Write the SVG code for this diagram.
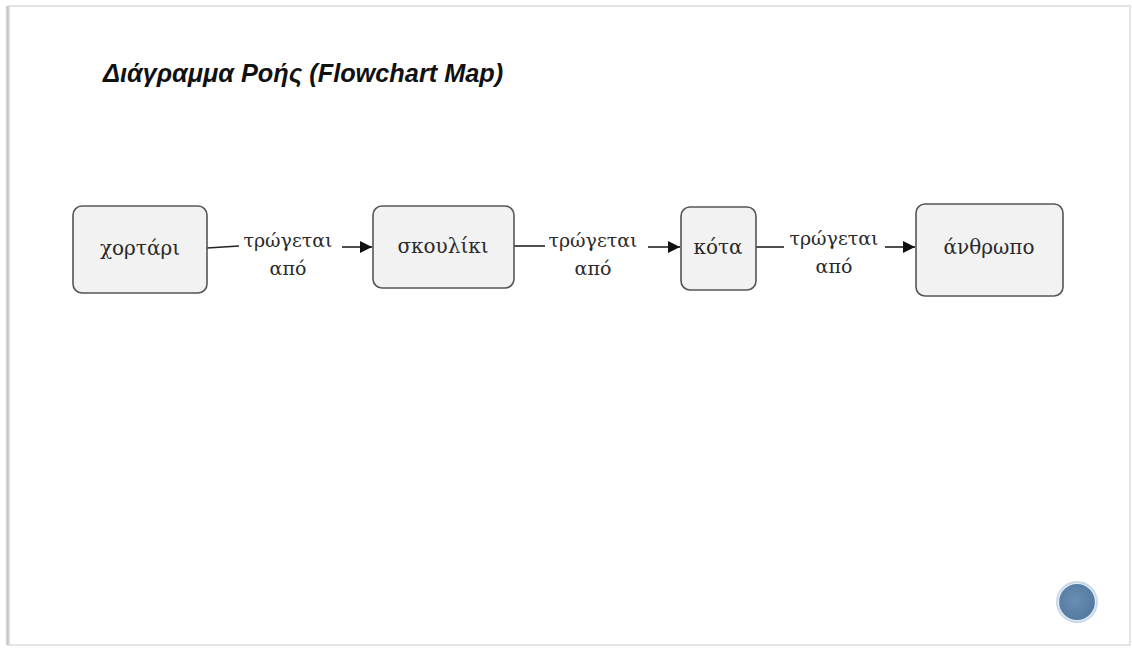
<svg xmlns="http://www.w3.org/2000/svg" width="1132" height="648" viewBox="0 0 1132 648">
  <defs>
    <linearGradient id="leftShade" x1="0" y1="0" x2="1" y2="0">
      <stop offset="0" stop-color="#ffffff"/>
      <stop offset="0.5" stop-color="#c4c4c4"/>
      <stop offset="1" stop-color="#e8e8e8"/>
    </linearGradient>
    <marker id="arrow" viewBox="0 0 10 10" refX="10" refY="5" markerWidth="13" markerHeight="12" markerUnits="userSpaceOnUse" orient="auto">
      <path d="M0,0 L10,5 L0,10 z" fill="#111"/>
    </marker>
    <radialGradient id="dot" cx="0.45" cy="0.45" r="0.6">
      <stop offset="0" stop-color="#6a8fb2"/>
      <stop offset="1" stop-color="#51789f"/>
    </radialGradient>
  </defs>
  <style>
    .node rect { fill: #f2f2f2; stroke: #555; stroke-width: 1.6; }
    .node text { font-family: "DejaVu Serif", "Liberation Serif", serif; font-size: 20px; fill: #2a2a2a; text-anchor: middle; }
    .label { font-family: "DejaVu Serif", "Liberation Serif", serif; font-size: 19px; fill: #2a2a2a; text-anchor: middle; }
    .edge { stroke: #222; stroke-width: 1.6; fill: none; }
    .title { font-family: "Liberation Sans", Arial, sans-serif; font-size: 25.3px; font-weight: bold; font-style: italic; fill: #111; }
  </style>

  <!-- slide background and frame -->
  <rect x="0" y="0" width="1132" height="648" fill="#ffffff"/>
  <rect x="8" y="6" width="1122" height="639" fill="#ffffff" stroke="#dcdcdc" stroke-width="1.5"/>
  <rect x="5" y="6" width="5" height="639" fill="url(#leftShade)"/>

  <text class="title" x="103" y="82">Διάγραμμα Ροής (Flowchart Map)</text>

  <!-- connectors -->
  <g id="connectors">
    <line class="edge" x1="207" y1="248" x2="239" y2="246"/>
    <line class="edge" x1="342" y1="247" x2="372" y2="247" marker-end="url(#arrow)"/>
    <text class="label" x="288" y="247">τρώγεται</text>
    <text class="label" x="288" y="275">από</text>

    <line class="edge" x1="514" y1="246" x2="545" y2="246"/>
    <line class="edge" x1="648" y1="247" x2="680" y2="247" marker-end="url(#arrow)"/>
    <text class="label" x="593" y="247">τρώγεται</text>
    <text class="label" x="593" y="275">από</text>

    <line class="edge" x1="756" y1="247" x2="784" y2="247"/>
    <line class="edge" x1="885" y1="247" x2="915" y2="247" marker-end="url(#arrow)"/>
    <text class="label" x="834" y="245">τρώγεται</text>
    <text class="label" x="834" y="273">από</text>
  </g>

  <g id="node-grass" class="node">
    <rect x="73" y="206" width="134" height="87" rx="9"/>
    <text x="140" y="255">χορτάρι</text>
  </g>
  <g id="node-worm" class="node">
    <rect x="373" y="206" width="141" height="82" rx="9"/>
    <text x="443" y="253">σκουλίκι</text>
  </g>
  <g id="node-hen" class="node">
    <rect x="681" y="207" width="75" height="83" rx="9"/>
    <text x="718" y="254">κότα</text>
  </g>
  <g id="node-human" class="node">
    <rect x="916" y="204" width="147" height="92" rx="9"/>
    <text x="989" y="254">άνθρωπο</text>
  </g>

  <!-- round slide button -->
  <circle cx="1077" cy="602" r="21" fill="#c9d8e8"/>
  <circle cx="1077" cy="602" r="18.5" fill="url(#dot)" stroke="#e6eef6" stroke-width="1.2"/>
</svg>
